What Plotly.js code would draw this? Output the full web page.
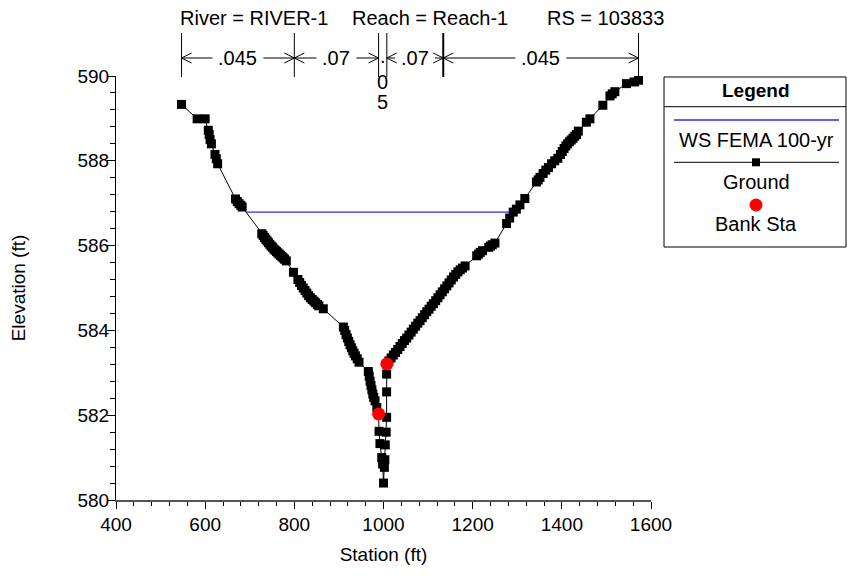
<!DOCTYPE html>
<html><head><meta charset="utf-8">
<script src="https://cdn.plot.ly/plotly-3.0.1.min.js"></script>
<style>html,body{margin:0;padding:0;background:#fff}#chart{width:847px;height:582px}</style>
</head><body><div id="chart"></div>
<script>
// ---- data ----
const groundStation = [547, 582, 600, 607, 609, 611, 614, 622, 625, 628, 668, 672, 676, 680, 683,
  727, 730, 733, 736, 739, 742, 745, 748, 751, 754, 757, 760, 763, 766, 769, 772, 775, 778, 782,
  798, 808, 812, 816, 820, 824, 828, 832, 836, 840, 844, 848, 852, 855, 865,
  910, 913, 916, 919, 922, 925, 928, 931, 934, 937, 941, 945,
  966, 968, 970, 972, 974, 976, 978, 981, 985,
  989, 990, 992, 996, 998, 1000, 1002, 1003, 1004, 1006, 1007, 1007, 1007, 1007.5,
  1012, 1017, 1022, 1027, 1032, 1037, 1042, 1047, 1052, 1057, 1062, 1067, 1072, 1077, 1082, 1087, 1092, 1097,
  1102, 1107, 1112, 1117, 1122, 1127, 1132, 1137, 1142, 1147, 1152, 1157, 1162, 1167, 1172, 1177, 1183,
  1209, 1213, 1217, 1222, 1236, 1240, 1244, 1250, 1276, 1283, 1291, 1298, 1306, 1317,
  1343, 1347, 1351, 1358, 1364, 1370, 1377, 1384, 1391, 1397, 1401, 1405, 1409, 1413, 1417, 1421, 1425, 1429, 1433, 1437,
  1455, 1463, 1492, 1508, 1513, 1519, 1545, 1562, 1572];
const groundElevation = [589.33, 588.99, 588.99, 588.72, 588.62, 588.50, 588.40, 588.15, 588.05, 587.93, 587.10, 587.04, 586.99, 586.95, 586.91,
  586.28, 586.24, 586.19, 586.15, 586.11, 586.07, 586.03, 585.99, 585.96, 585.92, 585.89, 585.86, 585.83, 585.80, 585.77, 585.74, 585.71, 585.68, 585.64,
  585.37, 585.20, 585.13, 585.06, 585.00, 584.94, 584.88, 584.82, 584.77, 584.73, 584.69, 584.65, 584.61, 584.58, 584.51,
  584.08, 584.00, 583.90, 583.82, 583.74, 583.66, 583.59, 583.52, 583.46, 583.40, 583.33, 583.25,
  583.03, 582.92, 582.80, 582.70, 582.60, 582.50, 582.42, 582.34, 582.18,
  582.03, 581.62, 581.33, 581.00, 580.85, 580.40, 580.77, 580.95, 581.30, 581.60, 581.95, 582.55, 582.97, 583.21,
  583.28, 583.35, 583.42, 583.48, 583.55, 583.62, 583.69, 583.76, 583.82, 583.89, 583.96, 584.03, 584.10, 584.17, 584.23, 584.30, 584.37, 584.44,
  584.50, 584.57, 584.63, 584.70, 584.77, 584.84, 584.91, 584.98, 585.05, 585.12, 585.19, 585.26, 585.32, 585.38, 585.43, 585.47, 585.52,
  585.76, 585.80, 585.84, 585.88, 585.96, 585.99, 586.02, 586.06, 586.52, 586.65, 586.79, 586.86, 586.96, 587.11,
  587.50, 587.55, 587.61, 587.70, 587.78, 587.84, 587.93, 588.00, 588.06, 588.15, 588.22, 588.29, 588.35, 588.40, 588.45, 588.49, 588.53, 588.58, 588.62, 588.70,
  588.91, 588.99, 589.31, 589.53, 589.58, 589.63, 589.82, 589.86, 589.90];
const bankStation = [989, 1007.5];
const bankElevation = [582.03, 583.21];
const wsStation = [693, 1293];
const wsElevation = [586.79, 586.79];
const nBreakStation = [547, 800, 989, 1007.5, 1134, 1572];
const nValueLabels = ['.045', '.07', '.05', '.07', '.045'];
const headerLabels = ['River = RIVER-1', 'Reach = Reach-1', 'RS = 103833'];
const legendTitle = 'Legend';
const legendLabels = ['WS FEMA 100-yr', 'Ground', 'Bank Sta'];

// ---- layout helpers (pixel -> paper) ----
const W = 847, H = 582, ML = 116, MR = 196, MT = 76, MB = 82;
const PW = W - ML - MR, PH = H - MT - MB;
const px = p => (p - ML) / PW;
const py = p => (H - MB - p) / PH;
const pxPerUnit = PW / 1200;
const FONT = 'Liberation Sans, Arial, sans-serif';
const FS = 19;
const BLUE = '#2a2aff';

const traces = [
  {x: wsStation, y: wsElevation, type: 'scatter', mode: 'lines', name: legendLabels[0],
   line: {color: BLUE, width: 1.3}, hoverinfo: 'skip'},
  {x: groundStation, y: groundElevation, type: 'scatter', mode: 'lines+markers', name: legendLabels[1],
   line: {color: 'black', width: 1}, marker: {symbol: 'square', size: 9, color: 'black'}},
  {x: bankStation, y: bankElevation, type: 'scatter', mode: 'markers', name: legendLabels[2],
   marker: {symbol: 'circle', size: 13, color: '#ff0000'}}
];

const shapes = [];
const annotations = [];
const txt = (o) => Object.assign({showarrow: false, xanchor: 'center', yanchor: 'middle',
  font: {family: FONT, size: 20, color: 'black'}}, o);

// header
const headerX = [178, 350, 545];
headerLabels.forEach((t, i) => annotations.push(txt({xref: 'paper', yref: 'paper', x: px(headerX[i]), y: py(18),
  xanchor: 'left', text: t})));

// Manning's n brackets
const yArrow = py(58), yTop = py(33), yBot = py(77), yBotEnd = py(86);
const charW = c => (c === '.' ? 0.278 : 0.556) * 20;
nBreakStation.forEach((s, i) => {
  const last = i === nBreakStation.length - 1;
  shapes.push({type: 'line', xref: 'x', yref: 'paper', x0: s, x1: s, y0: yTop, y1: last ? yBotEnd : yBot,
    line: {color: 'black', width: (s === 1134) ? 2 : 1}});
});
const chevW = 10 / pxPerUnit, chevH = 5 / PH;
for (let i = 0; i < nValueLabels.length; i++) {
  const a = nBreakStation[i], b = nBreakStation[i + 1], mid = (a + b) / 2;
  const lab = nValueLabels[i];
  if ((b - a) * pxPerUnit < 25) {
    const ys = [56, 82, 102];
    lab.split('').forEach((c, k) => annotations.push(txt({xref: 'x', yref: 'paper', x: mid, y: py(ys[k]), text: c})));
    continue;
  }
  annotations.push(txt({xref: 'x', yref: 'paper', x: mid, y: yArrow, text: lab}));
  const tw = lab.split('').reduce((acc, c) => acc + charW(c), 0);
  const half = (tw / 2 + 6) / pxPerUnit;
  const ln = {color: 'black', width: 1};
  shapes.push({type: 'line', xref: 'x', yref: 'paper', x0: a, x1: mid - half, y0: yArrow, y1: yArrow, line: ln});
  shapes.push({type: 'line', xref: 'x', yref: 'paper', x0: mid + half, x1: b, y0: yArrow, y1: yArrow, line: ln});
  [[a, 1], [b, -1]].forEach(([s, d]) => {
    shapes.push({type: 'line', xref: 'x', yref: 'paper', x0: s, x1: s + d * chevW, y0: yArrow, y1: yArrow + chevH, line: ln});
    shapes.push({type: 'line', xref: 'x', yref: 'paper', x0: s, x1: s + d * chevW, y0: yArrow, y1: yArrow - chevH, line: ln});
  });
}

// custom legend box
const LX0 = 664, LX1 = 846, LY0 = 77, LY1 = 247, LC = 756;
shapes.push({type: 'rect', xref: 'paper', yref: 'paper', x0: px(LX0), x1: px(LX1), y0: py(LY1), y1: py(LY0),
  line: {color: 'black', width: 1}, fillcolor: 'white', layer: 'below'});
shapes.push({type: 'line', xref: 'paper', yref: 'paper', x0: px(LX0), x1: px(LX1), y0: py(106.7), y1: py(106.7), line: {color: 'black', width: 1}});
annotations.push(txt({xref: 'paper', yref: 'paper', x: px(LC), y: py(91), text: '<b>' + legendTitle + '</b>',
  font: {family: FONT, size: 19, color: 'black'}}));
shapes.push({type: 'line', xref: 'paper', yref: 'paper', x0: px(674), x1: px(839), y0: py(120), y1: py(120), line: {color: BLUE, width: 1.3}});
annotations.push(txt({xref: 'paper', yref: 'paper', x: px(LC), y: py(140), text: legendLabels[0]}));
shapes.push({type: 'line', xref: 'paper', yref: 'paper', x0: px(674), x1: px(839), y0: py(162.3), y1: py(162.3), line: {color: 'black', width: 1}});
shapes.push({type: 'rect', xref: 'paper', yref: 'paper', x0: px(LC - 4), x1: px(LC + 4), y0: py(166.3), y1: py(158.3),
  line: {width: 0}, fillcolor: 'black'});
annotations.push(txt({xref: 'paper', yref: 'paper', x: px(LC), y: py(182), text: legendLabels[1]}));
shapes.push({type: 'circle', xref: 'paper', yref: 'paper', x0: px(LC - 6.5), x1: px(LC + 6.5), y0: py(211.5), y1: py(198.5),
  line: {width: 0}, fillcolor: '#ff0000'});
annotations.push(txt({xref: 'paper', yref: 'paper', x: px(LC), y: py(224), text: legendLabels[2]}));

const layout = {
  width: W, height: H,
  margin: {l: ML, r: MR, t: MT, b: MB, pad: 0},
  paper_bgcolor: 'white', plot_bgcolor: 'white',
  showlegend: false,
  font: {family: FONT, size: FS, color: 'black'},
  xaxis: {range: [400, 1600], dtick: 200, tick0: 400, ticks: 'outside', ticklen: 7, tickcolor: 'black', tickwidth: 1,
    showline: true, linecolor: '#555', linewidth: 1.5, showgrid: false, zeroline: false,
    minor: {dtick: 40, ticks: 'outside', ticklen: 4, tickcolor: 'black', showgrid: false},
    tickfont: {family: FONT, size: FS, color: 'black'},
    title: {text: 'Station (ft)', font: {family: FONT, size: FS, color: 'black'}, standoff: 13}},
  yaxis: {range: [580, 590], dtick: 2, tick0: 580, ticks: 'outside', ticklen: 8, tickcolor: 'black', tickwidth: 1,
    showline: true, linecolor: 'black', linewidth: 1, showgrid: false, zeroline: false, ticklabelstandoff: -6,
    minor: {dtick: 0.4, ticks: 'outside', ticklen: 5, tickcolor: 'black', showgrid: false},
    tickfont: {family: FONT, size: FS, color: 'black'},
    title: {text: 'Elevation (ft)', font: {family: FONT, size: FS, color: 'black'}, standoff: 46}},
  shapes: shapes,
  annotations: annotations
};

Plotly.newPlot('chart', traces, layout, {staticPlot: true, displayModeBar: false});
</script>
</body></html>
